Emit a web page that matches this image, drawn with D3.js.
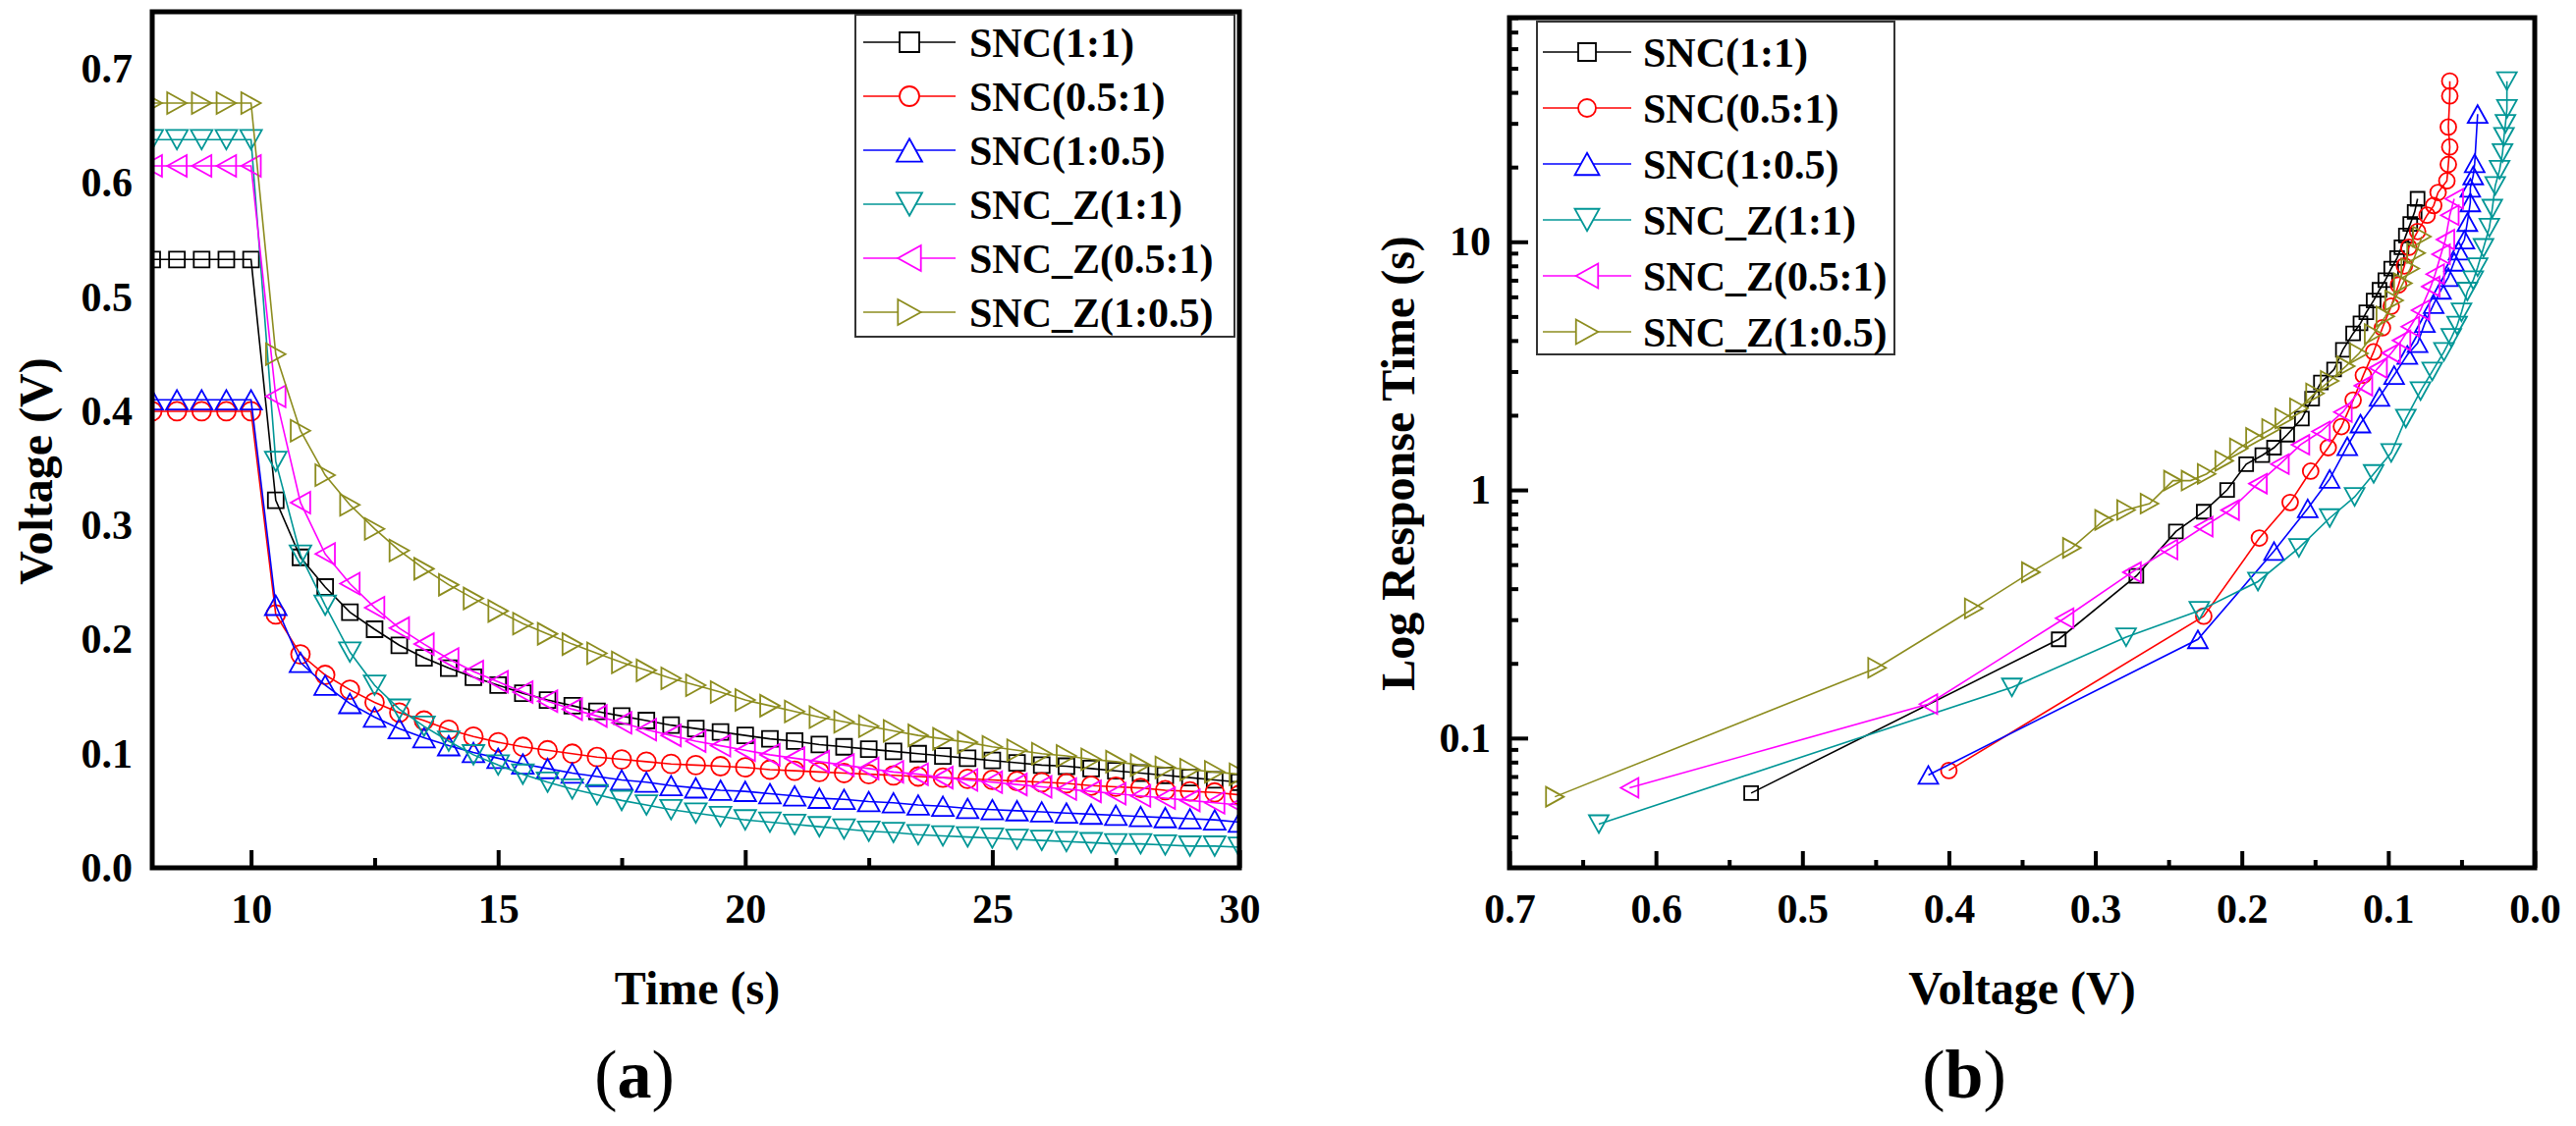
<!DOCTYPE html>
<html>
<head>
<meta charset="utf-8">
<script src="https://cdn.jsdelivr.net/npm/d3@7"></script>
<style>
  body { margin: 0; background: #fff; }
  text { font-family: "Liberation Serif", "Times New Roman", serif; fill: #000; }
</style>
</head>
<body>
<div id="chart"></div>
<script>
// series shared by both panels
const seriesNames = ["SNC(1:1)", "SNC(0.5:1)", "SNC(1:0.5)", "SNC_Z(1:1)", "SNC_Z(0.5:1)", "SNC_Z(1:0.5)"];
const seriesColors = ["#000000", "#ff0000", "#0000ff", "#009696", "#ff00ff", "#8c8c1e"];
const seriesShapes = ["square", "circle", "up", "down", "left", "right"];

// panel (a): voltage vs time
const timeA = [8, 8.5, 9, 9.5, 10, 10.5, 11, 11.5, 12, 12.5, 13, 13.5, 14, 14.5, 15,
  15.5, 16, 16.5, 17, 17.5, 18, 18.5, 19, 19.5, 20, 20.5, 21, 21.5, 22, 22.5, 23,
  23.5, 24, 24.5, 25, 25.5, 26, 26.5, 27, 27.5, 28, 28.5, 29, 29.5, 30];
const voltSNC11 = [0.533, 0.533, 0.533, 0.533, 0.533, 0.322, 0.272, 0.246, 0.224, 0.209, 0.195, 0.184, 0.175, 0.167, 0.160,
  0.153, 0.147, 0.142, 0.137, 0.133, 0.129, 0.125, 0.122, 0.119, 0.116, 0.113, 0.111, 0.108, 0.106, 0.104, 0.102,
  0.100, 0.098, 0.096, 0.094, 0.092, 0.090, 0.089, 0.087, 0.085, 0.083, 0.081, 0.079, 0.077, 0.075];
const voltSNC051 = [0.400, 0.400, 0.400, 0.400, 0.400, 0.222, 0.187, 0.169, 0.156, 0.145, 0.136, 0.129, 0.121, 0.115, 0.110,
  0.106, 0.103, 0.100, 0.097, 0.095, 0.093, 0.091, 0.090, 0.089, 0.088, 0.086, 0.085, 0.084, 0.083, 0.082, 0.081,
  0.080, 0.079, 0.078, 0.077, 0.076, 0.075, 0.074, 0.072, 0.071, 0.070, 0.068, 0.067, 0.066, 0.064];
const voltSNC105 = [0.410, 0.410, 0.410, 0.410, 0.410, 0.230, 0.180, 0.160, 0.144, 0.132, 0.122, 0.114, 0.107, 0.101, 0.096,
  0.091, 0.087, 0.083, 0.080, 0.077, 0.075, 0.072, 0.070, 0.068, 0.067, 0.065, 0.063, 0.061, 0.060, 0.058, 0.057,
  0.055, 0.054, 0.052, 0.051, 0.050, 0.049, 0.048, 0.047, 0.046, 0.045, 0.044, 0.043, 0.042, 0.040];
const voltZ11 = [0.638, 0.638, 0.638, 0.638, 0.638, 0.356, 0.274, 0.230, 0.189, 0.160, 0.139, 0.124, 0.111, 0.099, 0.090,
  0.082, 0.075, 0.069, 0.064, 0.059, 0.055, 0.051, 0.048, 0.045, 0.042, 0.040, 0.038, 0.036, 0.034, 0.032, 0.031,
  0.029, 0.028, 0.027, 0.026, 0.025, 0.024, 0.023, 0.022, 0.021, 0.021, 0.020, 0.019, 0.019, 0.018];
const voltZ051 = [0.615, 0.615, 0.615, 0.615, 0.615, 0.413, 0.320, 0.275, 0.249, 0.228, 0.210, 0.196, 0.183, 0.172, 0.163,
  0.154, 0.146, 0.139, 0.133, 0.127, 0.121, 0.116, 0.111, 0.107, 0.103, 0.099, 0.096, 0.093, 0.090, 0.087, 0.084,
  0.082, 0.079, 0.077, 0.075, 0.073, 0.071, 0.069, 0.067, 0.065, 0.063, 0.061, 0.059, 0.057, 0.055];
const voltZ105 = [0.670, 0.670, 0.670, 0.670, 0.670, 0.450, 0.383, 0.344, 0.318, 0.297, 0.278, 0.262, 0.248, 0.236, 0.225,
  0.214, 0.205, 0.196, 0.188, 0.180, 0.173, 0.166, 0.160, 0.154, 0.147, 0.142, 0.137, 0.132, 0.128, 0.124, 0.120,
  0.116, 0.113, 0.110, 0.106, 0.103, 0.100, 0.098, 0.095, 0.093, 0.090, 0.088, 0.086, 0.084, 0.082];
const voltA = [voltSNC11, voltSNC051, voltSNC105, voltZ11, voltZ051, voltZ105];

// panel (b): response time vs voltage
const respV11 = [0.535, 0.325, 0.272, 0.245, 0.226, 0.210, 0.197, 0.186, 0.178, 0.169, 0.159, 0.152, 0.146, 0.137,
  0.131, 0.124, 0.119, 0.115, 0.110, 0.106, 0.102, 0.098, 0.094, 0.091, 0.088, 0.085, 0.082, 0.080];
const respT11 = [0.060, 0.250, 0.450, 0.680, 0.817, 1.00, 1.27, 1.38, 1.48, 1.67, 1.94, 2.33, 2.71, 3.06,
  3.67, 4.27, 4.69, 5.2, 5.8, 6.4, 7.0, 7.8, 8.6, 9.5, 10.6, 11.8, 13.2, 14.9];
const respV051 = [0.400, 0.226, 0.188, 0.167, 0.153, 0.141, 0.132, 0.124, 0.117, 0.110, 0.104, 0.098, 0.093,
  0.089, 0.086, 0.080, 0.0735, 0.069, 0.066, 0.060, 0.059, 0.058, 0.059, 0.058, 0.058];
const respT051 = [0.074, 0.31, 0.64, 0.89, 1.19, 1.48, 1.8, 2.3, 2.9, 3.6, 4.5, 5.5, 6.7,
  8.0, 9.5, 11.0, 12.8, 14.0, 15.8, 17.6, 20.5, 24.1, 29.0, 38.7, 44.4];
const respV105 = [0.414, 0.230, 0.178, 0.155, 0.140, 0.128, 0.119, 0.106, 0.096, 0.087, 0.080, 0.075,
  0.069, 0.064, 0.059, 0.055, 0.052, 0.048, 0.046, 0.044, 0.044, 0.042, 0.041, 0.039];
const respT105 = [0.071, 0.250, 0.567, 0.842, 1.107, 1.50, 1.85, 2.37, 2.9, 3.5, 3.9, 4.7,
  5.6, 6.4, 7.2, 8.3, 9.2, 10.2, 12.0, 14.4, 16.5, 18.5, 20.7, 32.7];
const respVZ11 = [0.639, 0.357, 0.279, 0.229, 0.189, 0.161, 0.140, 0.123, 0.110, 0.098, 0.088, 0.078, 0.070, 0.062,
  0.057, 0.053, 0.050, 0.046, 0.042, 0.039, 0.035, 0.031, 0.029, 0.027, 0.024, 0.022, 0.021, 0.020, 0.019, 0.019];
const respTZ11 = [0.045, 0.160, 0.255, 0.326, 0.427, 0.584, 0.77, 0.937, 1.16, 1.41, 1.94, 2.5, 3.0, 3.6,
  4.1, 4.6, 5.2, 6.3, 7.0, 7.9, 9.45, 11.4, 13.6, 16.8, 19.5, 22.8, 26.5, 29.9, 34.3, 44.4];
const respVZ051 = [0.618, 0.414, 0.321, 0.275, 0.250, 0.226, 0.208, 0.189, 0.174, 0.160, 0.146, 0.131,
  0.117, 0.107, 0.098, 0.091, 0.085, 0.078, 0.071, 0.068, 0.064, 0.061, 0.058, 0.055];
const respTZ051 = [0.063, 0.137, 0.304, 0.466, 0.575, 0.711, 0.829, 1.06, 1.27, 1.52, 1.72, 2.06,
  2.63, 3.1, 3.56, 4.0, 4.55, 5.3, 6.6, 7.4, 8.9, 10.2, 12.8, 14.9];
const respVZ105 = [0.669, 0.449, 0.383, 0.344, 0.316, 0.294, 0.279, 0.263, 0.247, 0.235, 0.224, 0.212, 0.202, 0.191,
  0.180, 0.171, 0.161, 0.150, 0.140, 0.129, 0.120, 0.110, 0.102, 0.096, 0.090, 0.085, 0.081, 0.077];
const respTZ105 = [0.058, 0.192, 0.333, 0.466, 0.584, 0.757, 0.83, 0.88, 1.09, 1.09, 1.16, 1.31, 1.47, 1.62,
  1.76, 1.94, 2.13, 2.45, 2.75, 3.15, 3.55, 4.25, 5.0, 5.8, 6.8, 7.8, 9.0, 10.5];
const respV = [respV11, respV051, respV105, respVZ11, respVZ051, respVZ105];
const respT = [respT11, respT051, respT105, respTZ11, respTZ051, respTZ105];

// tick values
const ticksAx = [10, 15, 20, 25, 30];
const minorAx = [12.5, 17.5, 22.5, 27.5];
const ticksAy = [0, 0.1, 0.2, 0.3, 0.4, 0.5, 0.6, 0.7];
const ticksBx = [0.7, 0.6, 0.5, 0.4, 0.3, 0.2, 0.1, 0];
const minorBx = [0.65, 0.55, 0.45, 0.35, 0.25, 0.15, 0.05];
const ticksBy = [0.1, 1, 10];
const minorBy = [0.04, 0.05, 0.06, 0.07, 0.08, 0.09, 0.2, 0.3, 0.4, 0.5, 0.6, 0.7, 0.8, 0.9,
  2, 3, 4, 5, 6, 7, 8, 9, 20, 30, 40, 50, 60, 70, 80];

// marker shapes as d3 symbol types, size = width^2
const symSquare = { draw(ctx, size) { const s = Math.sqrt(size); ctx.rect(-s / 2, -s / 2, s, s); } };
const symCircle = { draw(ctx, size) { const r = Math.sqrt(size) / 2; ctx.moveTo(r, 0); ctx.arc(0, 0, r, 0, 2 * Math.PI); } };
function symTri(dir) {
  return {
    draw(ctx, size) {
      const s = Math.sqrt(size), h = s * 0.9;
      const pts = {
        up: [[0, -h / 2], [s / 2, h / 2], [-s / 2, h / 2]],
        down: [[0, h / 2], [s / 2, -h / 2], [-s / 2, -h / 2]],
        left: [[-h / 2, 0], [h / 2, -s / 2], [h / 2, s / 2]],
        right: [[h / 2, 0], [-h / 2, -s / 2], [-h / 2, s / 2]]
      }[dir];
      ctx.moveTo(pts[0][0], pts[0][1]);
      ctx.lineTo(pts[1][0], pts[1][1]);
      ctx.lineTo(pts[2][0], pts[2][1]);
      ctx.closePath();
    }
  };
}
const symTypes = { square: symSquare, circle: symCircle, up: symTri("up"), down: symTri("down"), left: symTri("left"), right: symTri("right") };
function markerSize(shape, sizes) {
  const w = shape === "square" ? sizes.square : shape === "circle" ? sizes.circle : sizes.tri;
  return w * w;
}

const svg = d3.select("#chart")
  .append("svg")
  .attr("width", 2623)
  .attr("height", 1147);

svg.append("rect").attr("width", 2623).attr("height", 1147).attr("fill", "#fff");

svg.append("defs").append("clipPath")
  .attr("id", "clipA")
  .append("rect")
  .attr("x", 155).attr("y", 12).attr("width", 1107).attr("height", 872);

// draw one series (line + hollow markers)
function drawSeries(g, pts, i, x, y, sizes, clip) {
  const grp = g.append("g");
  if (clip) grp.attr("clip-path", "url(#clipA)");
  grp.append("path")
    .datum(pts)
    .attr("fill", "none")
    .attr("stroke", seriesColors[i])
    .attr("stroke-width", 1.6)
    .attr("d", d3.line().x(d => x(d[0])).y(d => y(d[1])));
  grp.selectAll("path.mk")
    .data(pts)
    .join("path")
    .attr("class", "mk")
    .attr("transform", d => `translate(${x(d[0])},${y(d[1])})`)
    .attr("d", d3.symbol().type(symTypes[seriesShapes[i]]).size(markerSize(seriesShapes[i], sizes)))
    .attr("fill", "none")
    .attr("stroke", seriesColors[i])
    .attr("stroke-width", 1.8);
}

function drawLegend(g, box, rowY0, rowStep, lineX0, lineX1, textX, sizes) {
  g.append("rect")
    .attr("x", box[0]).attr("y", box[1]).attr("width", box[2]).attr("height", box[3])
    .attr("fill", "#fff").attr("stroke", "#333").attr("stroke-width", 2);
  seriesNames.forEach((name, i) => {
    const yy = rowY0 + i * rowStep;
    g.append("line")
      .attr("x1", lineX0).attr("x2", lineX1).attr("y1", yy).attr("y2", yy)
      .attr("stroke", seriesColors[i]).attr("stroke-width", 1.6);
    g.append("path")
      .attr("transform", `translate(${(lineX0 + lineX1) / 2},${yy})`)
      .attr("d", d3.symbol().type(symTypes[seriesShapes[i]]).size(markerSize(seriesShapes[i], sizes)))
      .attr("fill", "#fff").attr("stroke", seriesColors[i]).attr("stroke-width", 1.8);
    g.append("text")
      .attr("x", textX).attr("y", yy).attr("dy", "0.35em")
      .style("font-size", "42px").style("font-weight", "bold")
      .text(name);
  });
}

function styleAxis(g) {
  g.select(".domain").remove();
  g.selectAll(".tick line").attr("stroke", "#000").attr("stroke-width", 4);
  g.selectAll(".tick text")
    .style("font-family", "'Liberation Serif', serif")
    .style("font-size", "42px")
    .style("font-weight", "bold")
    .attr("fill", "#000");
}

// ---------------- panel (a) ----------------
const xA = d3.scaleLinear().domain([8, 30]).range([155, 1262]);
const yA = d3.scaleLinear().domain([0, 0.75]).range([884, 12]);
const gA = svg.append("g");

gA.append("g").attr("transform", "translate(0,884)")
  .call(d3.axisBottom(xA).tickValues(ticksAx).tickSizeInner(-18).tickSizeOuter(0).tickPadding(26))
  .call(styleAxis);
gA.append("g").attr("transform", "translate(0,884)")
  .call(d3.axisBottom(xA).tickValues(minorAx).tickFormat("").tickSizeInner(-10).tickSizeOuter(0))
  .call(styleAxis);
gA.append("g").attr("transform", "translate(155,0)")
  .call(d3.axisLeft(yA).tickValues(ticksAy).tickFormat(d3.format(".1f")).tickSize(0).tickPadding(20))
  .call(styleAxis);

voltA.forEach((vals, i) => {
  drawSeries(gA, timeA.map((t, k) => [t, vals[k]]), i, xA, yA, { square: 16, circle: 19, tri: 22 }, true);
});

gA.append("rect")
  .attr("x", 155).attr("y", 12).attr("width", 1107).attr("height", 872)
  .attr("fill", "none").attr("stroke", "#000").attr("stroke-width", 5);

drawLegend(gA, [871, 15, 386, 328], 43, 55, 879, 973, 987, { square: 20, circle: 20, tri: 26 });

gA.append("text")
  .attr("transform", "translate(36,480) rotate(-90)")
  .attr("text-anchor", "middle").attr("dy", "0.35em")
  .style("font-size", "48px").style("font-weight", "bold")
  .text("Voltage (V)");
gA.append("text")
  .attr("x", 710).attr("y", 1023).attr("text-anchor", "middle")
  .style("font-size", "48px").style("font-weight", "bold")
  .text("Time (s)");

// ---------------- panel (b) ----------------
const xB = d3.scaleLinear().domain([0.7, 0]).range([1537, 2581]);
const yB = d3.scaleLog().domain([0.03, 80]).range([884, 18]);
const gB = svg.append("g");

gB.append("g").attr("transform", "translate(0,884)")
  .call(d3.axisBottom(xB).tickValues(ticksBx).tickFormat(d3.format(".1f")).tickSizeInner(-17).tickSizeOuter(0).tickPadding(26))
  .call(styleAxis);
gB.append("g").attr("transform", "translate(0,884)")
  .call(d3.axisBottom(xB).tickValues(minorBx).tickFormat("").tickSizeInner(-8).tickSizeOuter(0))
  .call(styleAxis);
gB.append("g").attr("transform", "translate(1537,0)")
  .call(d3.axisLeft(yB).tickValues(ticksBy).tickFormat(d => String(d)).tickSizeInner(-19).tickSizeOuter(0).tickPadding(19))
  .call(styleAxis);
gB.append("g").attr("transform", "translate(1537,0)")
  .call(d3.axisLeft(yB).tickValues(minorBy).tickFormat("").tickSizeInner(-9).tickSizeOuter(0))
  .call(styleAxis);

respV.forEach((vals, i) => {
  drawSeries(gB, vals.map((v, k) => [v, respT[i][k]]), i, xB, yB, { square: 14, circle: 16, tri: 20 }, false);
});

gB.append("rect")
  .attr("x", 1537).attr("y", 18).attr("width", 1044).attr("height", 866)
  .attr("fill", "none").attr("stroke", "#000").attr("stroke-width", 5);

drawLegend(gB, [1565, 22, 364, 339], 53, 57, 1571, 1661, 1673, { square: 18, circle: 18, tri: 25 });

gB.append("text")
  .attr("transform", "translate(1423,472) rotate(-90)")
  .attr("text-anchor", "middle").attr("dy", "0.35em")
  .style("font-size", "48px").style("font-weight", "bold")
  .text("Log Response Time (s)");
gB.append("text")
  .attr("x", 2059).attr("y", 1023).attr("text-anchor", "middle")
  .style("font-size", "48px").style("font-weight", "bold")
  .text("Voltage (V)");

// panel captions
[["a", 646], ["b", 2000]].forEach(([letter, cx]) => {
  const t = svg.append("text")
    .attr("x", cx).attr("y", 1118).attr("text-anchor", "middle")
    .style("font-size", "70px");
  t.append("tspan").text("(");
  t.append("tspan").style("font-weight", "bold").text(letter);
  t.append("tspan").text(")");
});
</script>
</body>
</html>
